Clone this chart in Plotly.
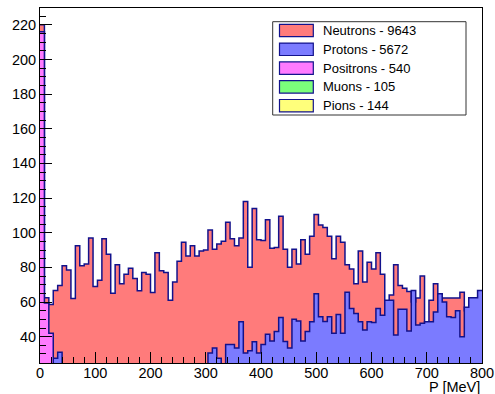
import plotly.graph_objects as go

# ---------------- data ----------------
# histogram bin edges in MeV (100 bins of 8 MeV, 0 - 800 MeV)
bin_edges_mev = list(range(0, 801, 8))

neutrons = [
    220, 62.5, 58.5, 66.7, 69.5, 81, 78.5, 62, 92.5, 81,
    82, 97, 69, 72.5, 96.5, 87.5, 65, 81.5, 70.5, 76,
    79.5, 73.5, 66.5, 77, 76, 65.5, 88.5, 78, 77, 61,
    71.5, 83.5, 94.5, 86.5, 92.5, 86.5, 89.5, 90, 101.5, 90.5,
    93.5, 95, 106, 96.5, 92.5, 97, 118, 80, 114, 96,
    95.5, 107.5, 91, 91.5, 109.5, 90.5, 80, 90.5, 82, 96,
    87.5, 98, 110.5, 104.5, 103, 98, 85, 98, 94.5, 81.5,
    79, 70.5, 89.5, 71.5, 83, 79, 88.5, 76, 60, 64,
    81.5, 69.5, 68, 66, 60, 62.3, 75, 45, 61, 70.5,
    55, 62.3, 62.3, 62.3, 62.3, 65.7, 55, 62, 51, 34,
]

protons = [
    0, 0, 0, 27.5, 31, 0, 0, 0, 0, 0,
    0, 0, 0, 0, 0, 0, 0, 0, 0, 0,
    0, 0, 0, 0, 0, 0, 0, 0, 0, 0,
    0, 0, 0, 0, 0, 0, 0, 0, 30.5, 33.5,
    27.5, 0, 35.5, 35.5, 33.5, 48.6, 30.5, 31.8, 37, 30.5,
    35.5, 41.4, 37.5, 43, 51, 37.2, 33.4, 50, 49, 37.5,
    43, 48.6, 64.8, 51.5, 48.7, 51.5, 42, 52.8, 42, 65.7,
    56.2, 53.4, 48.6, 43.8, 48.6, 48.2, 56.2, 52.4, 61, 61,
    41, 55.8, 55.8, 43.3, 66.7, 46.7, 47.7, 48.6, 48.6, 54.3,
    64.8, 60, 51.5, 51, 55, 40, 57, 62.5, 62.5, 66.7,
]

positrons = [216, 59.5, 42] + [0] * 97

series_names = ["Neutrons", "Protons", "Positrons", "Muons", "Pions"]
series_counts = [9643, 5672, 540, 105, 144]
series_colors = ["#ff7b7b", "#7b7bff", "#ff7bff", "#7bff7b", "#ffff7b"]

x_tick_values = [0, 100, 200, 300, 400, 500, 600, 700, 800]
x_minor_values = list(range(0, 801, 20))
y_tick_values = [40, 60, 80, 100, 120, 140, 160, 180, 200, 220]
y_minor_values = list(range(25, 231, 5))

# ---------------- layout constants ----------------
W, H = 495, 394
ML, MR, MT, MB = 40, 13, 8, 31
PW, PH = W - ML - MR, H - MT - MB
OUTLINE = "#12128c"
FONT = "Liberation Sans, Arial, Helvetica, sans-serif"


def px_x(p):
    return (p - ML) / PW


def px_y(p):
    return (H - MB - p) / PH


fig = go.Figure()

hist_series = [neutrons, protons, positrons]
for vals, color in zip(hist_series, series_colors[:3]):
    fig.add_trace(go.Scatter(
        x=bin_edges_mev,
        y=vals + [vals[-1]],
        mode="lines",
        line=dict(shape="hv", color=OUTLINE, width=1.5),
        fill="tozeroy",
        fillcolor=color,
        showlegend=False,
        hoverinfo="skip",
    ))

axis_common = dict(
    showline=True, linecolor="black", linewidth=1, mirror=True,
    showgrid=False, zeroline=False, ticks="inside", tickcolor="black",
    tickwidth=1, layer="above traces", automargin=False,
    tickfont=dict(family=FONT, size=14.5, color="black"),
)

fig.update_xaxes(
    range=[0, 800], tickmode="array", tickvals=x_tick_values, ticklen=11,
    ticklabelstandoff=-3,
    minor=dict(tickmode="array", tickvals=x_minor_values, ticks="inside",
               ticklen=6, tickcolor="black", showgrid=False),
    **axis_common,
)
fig.update_yaxes(
    range=[24.8, 229.7], tickmode="array", tickvals=y_tick_values, ticklen=12,
    minor=dict(tickmode="array", tickvals=y_minor_values, ticks="inside",
               ticklen=6, tickcolor="black", showgrid=False),
    **axis_common,
)

shapes = []
annotations = []

# legend box
shapes.append(dict(type="rect", xref="paper", yref="paper",
                   x0=px_x(272.7), x1=px_x(466), y0=px_y(115), y1=px_y(21.7),
                   line=dict(color="#333333", width=1), fillcolor="white",
                   layer="above"))
for i, (name, cnt, col) in enumerate(zip(series_names, series_counts, series_colors)):
    cy = 30.5 + 18.8 * i
    shapes.append(dict(type="rect", xref="paper", yref="paper",
                       x0=px_x(279.5), x1=px_x(313.3),
                       y0=px_y(cy + 6.2), y1=px_y(cy - 6.2),
                       line=dict(color=OUTLINE, width=1.2), fillcolor=col,
                       layer="above"))
    annotations.append(dict(xref="paper", yref="paper", x=px_x(320.5), y=px_y(cy),
                            xanchor="left", yanchor="middle", showarrow=False,
                            text=f"{name} - {cnt}",
                            font=dict(family=FONT, size=13, color="black")))

annotations.append(dict(xref="paper", yref="paper", x=1.0, y=px_y(387.5),
                        xanchor="right", yanchor="middle", showarrow=False,
                        text="P [MeV]",
                        font=dict(family=FONT, size=14.5, color="black")))

fig.update_layout(
    width=W, height=H,
    margin=dict(l=ML, r=MR, t=MT, b=MB, pad=0),
    paper_bgcolor="white", plot_bgcolor="white",
    showlegend=False,
    shapes=shapes, annotations=annotations,
    font=dict(family=FONT, color="black"),
)

fig.write_html(
    "out.html",
    config={"displayModeBar": False},
    post_script="document.body.style.margin='0px';document.body.style.overflow='hidden';",
)
